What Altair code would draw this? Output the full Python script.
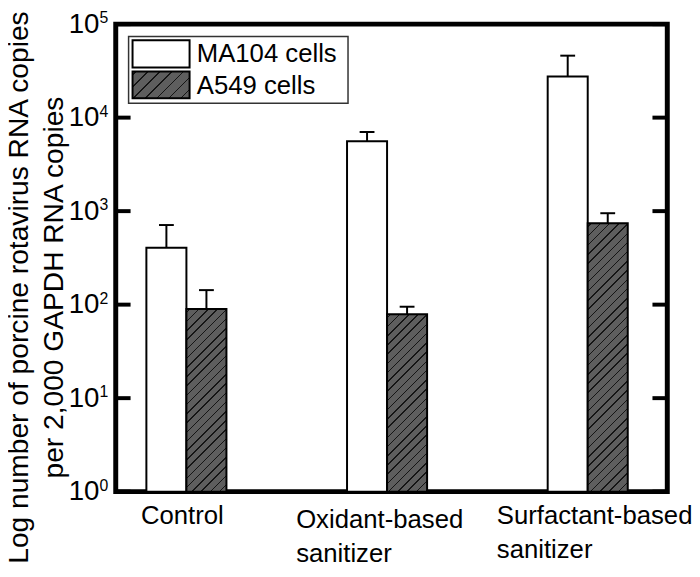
import math
import altair as alt
import pandas as pd

# ---------------- data ----------------
groups = ["Control", "Oxidant-based sanitizer", "Surfactant-based sanitizer"]
series = ["MA104 cells", "A549 cells"]
ma104_mean = [405, 5600, 27500]
ma104_upper = [710, 7000, 46000]
a549_mean = [90, 79, 740]
a549_upper = [143, 95, 950]
y_ticks = [1, 10, 100, 1000, 10000, 100000]
y_exps = ["0", "1", "2", "3", "4", "5"]
y_title = ["Log number of porcine rotavirus RNA copies", "per 2,000 GAPDH RNA copies"]

rows = []
for i, g in enumerate(groups):
    rows.append({"group": g, "series": series[0], "value": ma104_mean[i], "upper": ma104_upper[i]})
    rows.append({"group": g, "series": series[1], "value": a549_mean[i], "upper": a549_upper[i]})
df = pd.DataFrame(rows)
ticks_df = pd.DataFrame({"v": y_ticks, "exp": y_exps})
legend_df = pd.DataFrame({"series": series})

# ---------------- style ----------------
W, H = 558, 473
FONT = "Liberation Sans"
GRAY = "#5e5e5e"
X_RANGE = [31, 518]
P_INNER = 0.601
BAR_W = (X_RANGE[1] - X_RANGE[0]) / (3 - P_INNER) * (1 - P_INNER) / 2


def hatch(w, h, spacing=6.6, lw=1.1, bg=GRAY, fg="#151515"):
    c = (1 / h + 1 / w) / (1 / h ** 2 + 1 / w ** 2)
    s = (w + h) / math.sqrt(2)
    stops = [alt.GradientStop(offset=0, color=bg)]
    k = 0
    while True:
        o = (k * spacing + 2.0) / s
        if o >= 1:
            break
        o2 = min(1.0, o + lw / s)
        stops += [alt.GradientStop(offset=o, color=bg), alt.GradientStop(offset=o, color=fg),
                  alt.GradientStop(offset=o2, color=fg), alt.GradientStop(offset=o2, color=bg)]
        k += 1
    stops.append(alt.GradientStop(offset=1, color=bg))
    return alt.LinearGradient(gradient="linear", stops=stops, x1=0, y1=0, x2=c / h, y2=c / w)


ysc = alt.Scale(type="log", domain=[1, 100000], nice=False)
xsc = alt.Scale(range=X_RANGE, paddingInner=P_INNER, paddingOuter=0)

x_enc = alt.X(
    "group:N", sort=groups, scale=xsc,
    axis=alt.Axis(
        title=None, domain=False, ticks=False, grid=False, labelLimit=0,
        labelExpr="datum.label == 'Control' ? 'Control' : split(datum.label, ' ')",
        labelFontSize=26, labelFont=FONT, labelColor="black", labelAlign="left",
        labelBaseline="top", labelLineHeight=35, labelAngle=0,
        labelOffset={"condition": {"test": "datum.label == 'Control'", "value": -46},
                     "value": -92},
        labelPadding={"condition": {"test": "datum.label == 'Oxidant-based sanitizer'", "value": 15},
                      "value": 11},
    ),
)
xo_enc = alt.XOffset("series:N", sort=series, scale=alt.Scale(paddingInner=0, paddingOuter=0))

y_enc = alt.Y(
    "value:Q", scale=ysc,
    axis=alt.Axis(
        values=y_ticks, domain=False, ticks=False, tickSize=0, grid=False,
        labelExpr="'10'",
        labelFontSize=28, labelFont=FONT, labelColor="black", labelPadding=17,
        title=y_title, titleFontSize=28.5, titleFont=FONT, titleFontWeight="normal",
        titleColor="black", titleX=-89, titleY=266, titleAngle=270, titleAlign="center",
        titleBaseline="alphabetic", titleLineHeight=35,
    ),
)

base = alt.Chart(df)

ma_bars = base.transform_filter(alt.datum.series == series[0]).mark_bar(
    fill="white", stroke="black", strokeWidth=2
).encode(x=x_enc, xOffset=xo_enc, y=y_enc, y2=alt.datum(1))

layers = [ma_bars]
for i, g in enumerate(groups):
    h = math.log10(a549_mean[i]) / 5 * H
    layers.append(
        base.transform_filter((alt.datum.series == series[1]) & (alt.datum.group == g))
        .mark_bar(fill=hatch(BAR_W, h), stroke="black", strokeWidth=2)
        .encode(x=alt.X("group:N", sort=groups), xOffset=alt.XOffset("series:N", sort=series),
                y=alt.Y("value:Q"), y2=alt.datum(1))
    )

err = base.mark_rule(color="black", strokeWidth=2, opacity=1).encode(
    x=alt.X("group:N", sort=groups), xOffset=alt.XOffset("series:N", sort=series),
    y=alt.Y("value:Q"), y2="upper:Q")
caps = base.mark_tick(orient="horizontal", color="black", size=15, thickness=2, opacity=1).encode(
    x=alt.X("group:N", sort=groups), xOffset=alt.XOffset("series:N", sort=series),
    y=alt.Y("upper:Q"))

tick_l = alt.Chart(ticks_df).mark_tick(orient="horizontal", color="black", size=15, thickness=4,
                                       opacity=1).encode(y=alt.Y("v:Q"), x=alt.value(7.5))
tick_r = alt.Chart(ticks_df).mark_tick(orient="horizontal", color="black", size=15, thickness=4,
                                       opacity=1).encode(y=alt.Y("v:Q"), x=alt.value(W - 7.5))
exps = alt.Chart(ticks_df).mark_text(
    align="left", baseline="alphabetic", fontSize=16, font=FONT, color="black", dy=-1
).encode(y=alt.Y("v:Q"), x=alt.value(-16.5), text="exp:N")

# legend
leg_box = alt.Chart(legend_df).transform_filter(alt.datum.series == series[0]).mark_rect(
    fill="white", stroke="#333333", strokeWidth=1.5
).encode(x=alt.value(13), x2=alt.value(235), y=alt.value(12.5), y2=alt.value(80))
leg_sw1 = alt.Chart(legend_df).transform_filter(alt.datum.series == series[0]).mark_rect(
    fill="white", stroke="black", strokeWidth=2
).encode(x=alt.value(17), x2=alt.value(74.7), y=alt.value(16.3), y2=alt.value(44))
leg_sw2 = alt.Chart(legend_df).transform_filter(alt.datum.series == series[1]).mark_rect(
    fill=hatch(57.7, 27, spacing=8.5), stroke="black", strokeWidth=2
).encode(x=alt.value(17), x2=alt.value(74.7), y=alt.value(48), y2=alt.value(75))
leg_t1 = alt.Chart(legend_df).transform_filter(alt.datum.series == series[0]).mark_text(
    align="left", baseline="alphabetic", fontSize=26, font=FONT, color="black"
).encode(text="series:N", x=alt.value(82), y=alt.value(38.5))
leg_t2 = alt.Chart(legend_df).transform_filter(alt.datum.series == series[1]).mark_text(
    align="left", baseline="alphabetic", fontSize=26, font=FONT, color="black"
).encode(text="series:N", x=alt.value(82), y=alt.value(70.7))

chart = alt.layer(
    *layers, err, caps, tick_l, tick_r, exps, leg_box, leg_sw1, leg_sw2, leg_t1, leg_t2
).properties(
    width=W, height=H, autosize=alt.AutoSizeParams(type="none"),
    padding={"left": 109, "top": 13, "right": 25, "bottom": 80},
    background="white",
).configure_view(stroke="black", strokeWidth=5)

chart.save("out.html", embed_options={"renderer": "svg", "actions": False})
